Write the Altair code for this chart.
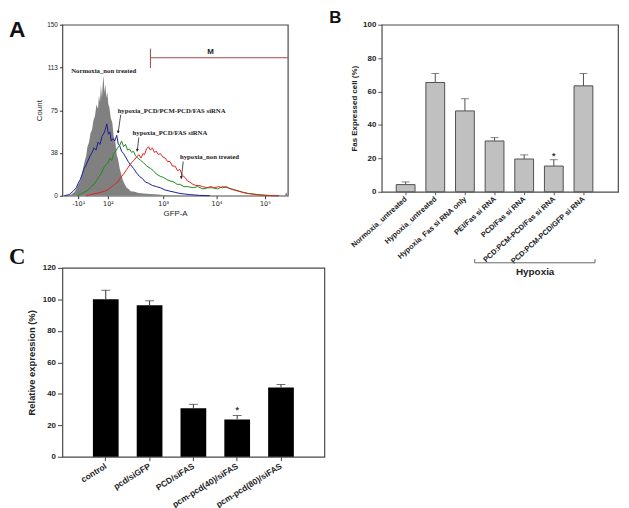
import altair as alt
import pandas as pd

# ---------------- Panel A: flow cytometry histograms (display channel 0-1024) ----------------
gray_ch = [22,40,54,63,72,81,88,94,101,108,114,121,128,135,141,148,155,162,166,171,
           175,180,184,187,191,195,200,204,209,213,220,227,233,240,247,253,260,267,274,283,
           292,301,310,328,346,368,400,436,471,512,557,1010,1017,1024]
gray_ct = [0,1,3,6,10,13,18,24,30,35,43,47,55,58,66,70,80,76,88,82,
           97,86,100,105,90,98,86,91,80,78,68,64,52,48,36,32,24,19,14,10,
           7,6,4,3.5,2.5,2,1.5,1,0.5,0.2,0,0,3,0]
blue_ch = [9,31,49,63,72,81,90,99,108,117,126,135,144,153,162,171,180,189,195,202,
           209,216,222,229,238,247,254,260,269,278,287,299,310,323,337,350,364,377,391,409,
           427,445,467,489,512,534,579,624,669]
blue_ct = [0,1,4,7,11,14,19,24,27,31,35,38,42,40,47,45,52,55,58,63,
           54,56,48,50,48,53,45,44,39,37,34,30,27,24,20,17,15,12,11,9,
           8,7,5,4,3,2,1,0.3,0]
green_ch = [67,85,103,117,130,144,157,171,180,189,198,207,216,224,233,242,251,260,269,278,
            287,296,305,314,323,332,343,355,368,384,400,413,427,445,460,476,489,507,521,534,
            552,570,593,615,638,660,682,705,727,750,768,786,804,822,844,867,894,920,952,983]
green_ct = [0,1.5,3.5,5,8,10,14,18,21,25,27,29,33,31,37,39,42,44,48,43,
            45,40,41,38,39,35,33,31,29,26,24,22,19,17,16,14,13,12,10,10,
            8,8,7,8,6,7,7,6,8,7,6,5,4,3,2,1.5,0.8,0.4,0.1,0]
red_ch = [108,130,153,175,193,211,224,238,251,265,278,292,303,314,325,337,348,357,366,373,
          382,391,400,409,418,427,436,445,456,467,478,489,500,512,523,534,545,557,568,579,
          593,606,620,638,656,674,691,709,727,745,763,781,799,817,840,862,889,920,952,983]
red_ct = [0,1,2,3,4,6,8,10,12,16,19,23,26,29,31,34,36,33,37,36,
          41,43,40,42,38,39,36,37,34,33,30,30,26,26,22,23,18,16,13,12,
          10,9,9,8,7,8,7,8,7,8,6,5,4,3,2,1.5,0.8,0.4,0.1,0]

a_tick_vals = [72, 207, 458, 700, 920]
a_tick_labels = ["-10\u00b9", "10\u00b2", "10\u00b3", "10\u2074", "10\u2075"]
a_y_vals = [0, 37.5, 75, 112.5, 150]

a_notes = ["Normoxia_non treated", "hypoxia_PCD/PCM-PCD/FAS siRNA",
           "hypoxia_PCD/FAS siRNA", "hypoxia_non treated"]
a_note_x = [40, 251, 319, 534]
a_note_y = [109.5, 74.5, 55, 34]
arrow_x = [265, 347, 549]
arrow_y = [71, 51, 30]
arrow_x2 = [253, 340, 540]
arrow_y2 = [55, 39, 15]

# ---------------- Panel B ----------------
b_labels = ["Normoxia_untreated", "Hypoxia_untreated", "Hypoxia_Fas si RNA only",
            "PEI/Fas si RNA", "PCD/Fas si RNA", "PCD:PCM-PCD/Fas si RNA",
            "PCD:PCM-PCD/GFP si RNA"]
b_vals = [4.3, 65.4, 48.4, 30.4, 19.6, 15.4, 63.4]
b_err = [1.6, 5.4, 7.3, 2.0, 2.5, 3.8, 7.4]

# ---------------- Panel C ----------------
c_labels = ["control", "pcd/siGFP", "PCD/siFAS", "pcm-pcd(40)/siFAS", "pcm-pcd(80)/siFAS"]
c_vals = [100.1, 96.3, 30.8, 23.7, 44.0]
c_err = [5.7, 2.8, 2.5, 2.5, 1.9]

SANS = "Liberation Sans"
SERIF = "Liberation Serif"

# ================= Panel A =================
def hist_df(ch, ct):
    return pd.DataFrame({"ch": ch, "ct": ct})

a_label_expr = "[" + ",".join("'%s'" % s for s in a_tick_labels) + "][indexof(%s, datum.value)]" % str(a_tick_vals)

xA = alt.X("ch:Q", scale=alt.Scale(domain=[0, 1024], nice=False, zero=False),
           axis=alt.Axis(values=a_tick_vals, labelExpr=a_label_expr, title="GFP-A",
                         titleFont=SANS, titleFontSize=8, titleFontWeight="normal",
                         titleColor="#222", titlePadding=3,
                         labelFont="DejaVu Sans", labelFontSize=6.5, labelColor="#222",
                         tickSize=3, tickColor="#333", domain=False, grid=False,
                         labelFlush=False, labelOverlap=False, labelPadding=2))
yA = alt.Y("ct:Q", scale=alt.Scale(domain=[0, 150], nice=False, zero=True),
           axis=alt.Axis(values=a_y_vals, format="d", title="Count",
                         titleFont=SANS, titleFontSize=8, titleFontWeight="normal",
                         titleColor="#222", titlePadding=3,
                         labelFont=SANS, labelFontSize=6.5, labelColor="#222",
                         tickSize=3, tickColor="#333", domain=False, grid=False,
                         labelPadding=2))

a_gray = alt.Chart(hist_df(gray_ch, gray_ct)).mark_area(color="#808080", opacity=1).encode(x=xA, y=yA)
a_blue = alt.Chart(hist_df(blue_ch, blue_ct)).mark_line(color="#1c1c9a", strokeWidth=1).encode(x=xA, y=yA)
a_green = alt.Chart(hist_df(green_ch, green_ct)).mark_line(color="#1a8c1a", strokeWidth=1).encode(x=xA, y=yA)
a_red = alt.Chart(hist_df(red_ch, red_ct)).mark_line(color="#e3211e", strokeWidth=1).encode(x=xA, y=yA)

m_df = pd.DataFrame({"ch": [400], "ch2": [1024], "ct": [121]})
a_mline = alt.Chart(m_df).mark_rule(color="#a04848", strokeWidth=1).encode(x=xA, x2="ch2:Q", y=yA)
m_tick = pd.DataFrame({"ch": [400], "ct": [112], "ct2": [129]})
a_mtick = alt.Chart(m_tick).mark_rule(color="#a04848", strokeWidth=1).encode(x=xA, y=yA, y2="ct2:Q")
m_txt = pd.DataFrame({"ch": [673], "ct": [126], "t": ["M"]})
a_mtext = alt.Chart(m_txt).mark_text(font=SANS, fontSize=8, fontWeight="bold", color="#222",
                                     baseline="middle").encode(x=xA, y=yA, text="t:N")

notes_df = pd.DataFrame({"ch": a_note_x, "ct": a_note_y, "t": a_notes})
a_notes_l = alt.Chart(notes_df).mark_text(font=SERIF, fontSize=6.8, fontWeight="bold", color="#222",
                                          align="left", baseline="middle").encode(x=xA, y=yA, text="t:N")
arr_df = pd.DataFrame({"ch": arrow_x, "ct": arrow_y, "ch2": arrow_x2, "ct2": arrow_y2})
a_arr = alt.Chart(arr_df).mark_rule(color="#222", strokeWidth=0.8).encode(x=xA, y=yA, x2="ch2:Q", y2="ct2:Q")
head_df = pd.DataFrame({"ch": arrow_x2, "ct": arrow_y2})
a_head = alt.Chart(head_df).mark_point(shape="triangle-down", filled=True, color="#222", size=10,
                                       angle=8, opacity=1, yOffset=-1).encode(x=xA, y=yA)
a_letter = alt.Chart(pd.DataFrame({"t": ["A"]})).mark_text(
    font=SANS, fontSize=23, fontWeight="bold", color="#111", align="left", baseline="top"
).encode(x=alt.value(-54), y=alt.value(-6), text="t:N")

panelA = alt.layer(a_gray, a_blue, a_green, a_red, a_mline, a_mtick, a_mtext,
                   a_notes_l, a_arr, a_head, a_letter).properties(width=228, height=173)

# ================= Panel B =================
b_df = pd.DataFrame({"i": list(range(len(b_labels))), "v": b_vals,
                     "top": [v + e for v, e in zip(b_vals, b_err)]})
b_label_expr = "[" + ",".join("'%s'" % s for s in b_labels) + "][datum.value]"
b_xaxis = alt.Axis(values=list(range(len(b_labels))), labelExpr=b_label_expr, title=None,
                   labelAngle=318, labelAlign="right", labelBaseline="middle",
                   labelFont=SANS, labelFontSize=7.5, labelFontWeight="bold", labelColor="#222",
                   tickSize=3, tickColor="#555", domain=False, grid=False,
                   labelOverlap=False, labelFlush=False, labelPadding=3)
b_yaxis = alt.Axis(values=[0, 20, 40, 60, 80, 100], title="Fas Expressed cell (%)",
                   titleFont=SANS, titleFontSize=8, titleFontWeight="bold", titleColor="#222",
                   titlePadding=4, labelFont=SANS, labelFontSize=8, labelFontWeight="bold",
                   labelColor="#222", tickSize=4, tickColor="#555", domain=False, grid=False,
                   labelPadding=2)
xB = alt.X("i:Q", scale=alt.Scale(domain=[-0.64, 7.0], nice=False, zero=False), axis=b_xaxis)
yscaleB = alt.Scale(domain=[0, 100], nice=False)
b_bars = alt.Chart(b_df).mark_bar(size=19, color="#c0c0c0", stroke="#505050", strokeWidth=1).encode(
    x=xB, y=alt.Y("v:Q", scale=yscaleB, axis=b_yaxis))
b_err_l = alt.Chart(b_df).mark_rule(color="#505050", strokeWidth=1).encode(
    x=xB, y=alt.Y("v:Q", scale=yscaleB, axis=b_yaxis), y2="top:Q")
b_cap = alt.Chart(b_df).mark_tick(orient="horizontal", size=8, thickness=1, color="#505050").encode(
    x=xB, y=alt.Y("top:Q", scale=yscaleB, axis=b_yaxis))
b_star = alt.Chart(pd.DataFrame({"i": [5], "v": [21.5], "t": ["*"]})).mark_text(
    font=SANS, fontSize=9, fontWeight="bold", color="#333", baseline="middle").encode(
    x=xB, y=alt.Y("v:Q", scale=yscaleB, axis=b_yaxis), text="t:N")
br_df = pd.DataFrame({"i": [2.33], "i2": [6.39], "v": [-42.5]})
b_br = alt.Chart(br_df).mark_rule(color="#666", strokeWidth=1).encode(
    x=xB, x2="i2:Q", y=alt.Y("v:Q", scale=yscaleB, axis=b_yaxis))
brt_df = pd.DataFrame({"i": [2.33, 6.39], "v": [-42.5, -42.5], "v2": [-40.3, -40.3]})
b_brt = alt.Chart(brt_df).mark_rule(color="#666", strokeWidth=1).encode(
    x=xB, y=alt.Y("v:Q", scale=yscaleB, axis=b_yaxis), y2="v2:Q")
hy_df = pd.DataFrame({"i": [4.37], "v": [-48.3], "t": ["Hypoxia"]})
b_hy = alt.Chart(hy_df).mark_text(font=SANS, fontSize=10, fontWeight="bold", color="#222",
                                  baseline="middle").encode(
    x=xB, y=alt.Y("v:Q", scale=yscaleB, axis=b_yaxis), text="t:N")
b_letter = alt.Chart(pd.DataFrame({"t": ["B"]})).mark_text(
    font=SANS, fontSize=17, fontWeight="bold", color="#111", align="left", baseline="top"
).encode(x=alt.value(-53), y=alt.value(-14.5), text="t:N")

panelB = alt.layer(b_bars, b_err_l, b_cap, b_star, b_br, b_brt, b_hy, b_letter).properties(
    width=239, height=169)

# ================= Panel C =================
c_df = pd.DataFrame({"lab": c_labels, "v": c_vals,
                     "top": [v + e for v, e in zip(c_vals, c_err)]})
c_xaxis = alt.Axis(title=None, labelAngle=328, labelAlign="right", labelBaseline="middle",
                   labelFont=SANS, labelFontSize=8.5, labelFontWeight="bold", labelColor="#222",
                   tickSize=4, tickColor="#444", domain=False, grid=False,
                   labelOverlap=False, labelPadding=4)
c_yaxis = alt.Axis(values=[0, 20, 40, 60, 80, 100, 120], title="Relative expression (%)",
                   titleFont=SANS, titleFontSize=9.5, titleFontWeight="bold", titleColor="#222",
                   titlePadding=6, labelFont=SANS, labelFontSize=8, labelFontWeight="bold",
                   labelColor="#222", tickSize=5, tickColor="#444", domain=False, grid=False,
                   labelPadding=2)
xC = alt.X("lab:N", sort=c_labels,
           scale=alt.Scale(paddingInner=0.413, paddingOuter=0.697), axis=c_xaxis)
yscaleC = alt.Scale(domain=[0, 120], nice=False)
c_bars = alt.Chart(c_df).mark_bar(color="#000000").encode(
    x=xC, y=alt.Y("v:Q", scale=yscaleC, axis=c_yaxis))
c_err_l = alt.Chart(c_df).mark_rule(color="#333", strokeWidth=1).encode(
    x=xC, y=alt.Y("v:Q", scale=yscaleC, axis=c_yaxis), y2="top:Q")
c_cap = alt.Chart(c_df).mark_tick(orient="horizontal", size=9, thickness=1, color="#333").encode(
    x=xC, y=alt.Y("top:Q", scale=yscaleC, axis=c_yaxis))
c_star = alt.Chart(pd.DataFrame({"lab": ["pcm-pcd(40)/siFAS"], "v": [29.5], "t": ["*"]})).mark_text(
    font=SANS, fontSize=9, fontWeight="bold", color="#333", baseline="middle").encode(
    x=xC, y=alt.Y("v:Q", scale=yscaleC, axis=c_yaxis), text="t:N")
c_letter = alt.Chart(pd.DataFrame({"t": ["C"]})).mark_text(
    font=SERIF, fontSize=23, fontWeight="bold", color="#111", align="left", baseline="top"
).encode(x=alt.value(-54), y=alt.value(-22), text="t:N")

panelC = alt.layer(c_bars, c_err_l, c_cap, c_star, c_letter).properties(width=265, height=191)

chart = alt.concat(panelA, panelB, panelC, columns=2,
                   spacing={"row": 73, "column": 58}).properties(
    bounds="flush", align="each",
    padding={"left": 0, "top": -3, "right": 2, "bottom": 0},
    background="white"
).configure_view(stroke="#4a4a4a", strokeWidth=1.2)

chart.save("out.html", embed_options={"renderer": "svg", "actions": False})
